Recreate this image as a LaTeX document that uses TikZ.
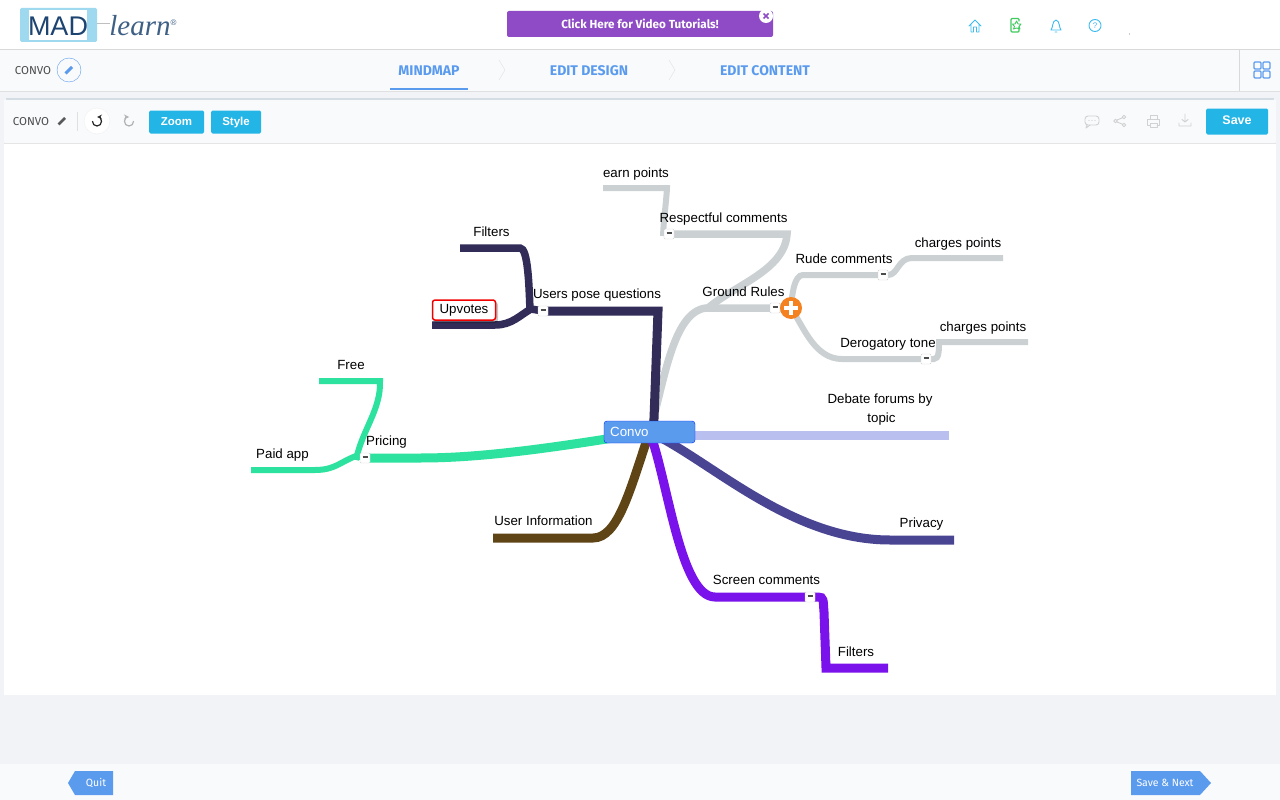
\documentclass[tikz,border=0pt]{standalone}
\usepackage{fontspec}
\usepackage{tikz}
\usetikzlibrary{backgrounds}
\setmainfont{Liberation Sans}
\newfontfamily\uifont{Fira Sans}
\newfontfamily\logofont{Liberation Serif}

\definecolor{pagegray}{HTML}{F1F3F6}
\definecolor{barwhite}{HTML}{F9FAFC}
\definecolor{panelline}{HTML}{D5DDE4}
\definecolor{navblue}{HTML}{5B9BEE}
\definecolor{skybtn}{HTML}{22B5E6}
\definecolor{iconblue}{HTML}{3DBBF0}
\definecolor{icongreen}{HTML}{3CCB5C}
\definecolor{logoblue}{HTML}{1D4470}
\definecolor{logopale}{HTML}{9FD9F0}
\definecolor{videopurple}{HTML}{8E4BC5}
\definecolor{addorange}{HTML}{F58220}
\definecolor{navybranch}{HTML}{312C58}
\definecolor{graybranch}{HTML}{CBD1D3}
\definecolor{greenbranch}{HTML}{2CE29E}
\definecolor{brownbranch}{HTML}{5F4516}
\definecolor{purplebranch}{HTML}{7A12EB}
\definecolor{indigobranch}{HTML}{4A4593}
\definecolor{paleblue}{HTML}{B9C0F0}

\tikzset{
  maplabel/.style={font=\fontsize{13.3}{15}\selectfont, text=black, inner sep=0pt},
  minusbox/.style={draw=black!18, fill=white, rounded corners=1pt, minimum size=10, inner sep=0pt, text=black!70},
  btnbox/.style={fill=skybtn, rounded corners=1.5pt, text=white, inner sep=0pt, text height=8.5pt, text depth=2.5pt,
    font=\bfseries\fontsize{11.5}{13}\selectfont},
  tabtext/.style={text=navblue, inner sep=0pt, font=\uifont\bfseries\fontsize{14}{15}\selectfont},
  smalltext/.style={text=black!70, inner sep=0pt, font=\uifont\fontsize{11.5}{13}\selectfont},
  footlabel/.style={text=white, inner sep=0pt, font=\uifont\fontsize{10.5}{12}\selectfont},
  icon/.style={line width=0.9pt, line cap=round, line join=round},
  thickbranch/.style={line width=9pt},
  midbranch/.style={line width=7.5pt},
  thinbranch/.style={line width=6pt}
}
\newcommand{\minusmark}{\rule[1.5pt]{5pt}{1.8pt}}

\begin{document}
\begin{tikzpicture}[x=1pt, y=-1pt]
  \useasboundingbox (0,0) rectangle (1280,800);

  %% page bands
  \begin{scope}[on background layer]
    \fill[white] (0,0) rectangle (1280,800);
    \fill[pagegray] (0,91) rectangle (1280,764);
    \fill[barwhite] (0,49) rectangle (1280,91);
    \draw[black!15] (0,49.5) -- (1280,49.5);
    \draw[black!12] (0,91) -- (1280,91);
    \draw[black!15] (1239.5,49) -- (1239.5,91);
    \fill[barwhite] (0,764) rectangle (1280,800);
    \fill[barwhite, rounded corners=2pt] (4,99) rectangle (1276,143);
    \draw[line width=2pt, panelline] (6,99) -- (1274,99);
    \fill[white] (4,143) rectangle (1276,695);
    \draw[black!10] (4,143) -- (1276,143);
  \end{scope}

  %% header
  \fill[logopale, rounded corners=1.5pt] (20,8) rectangle (97,42);
  \fill[white] (29,10) rectangle (87,40);
  \draw[black!25, line width=1pt] (97,24) -- (110,24);
  \node[inner sep=0pt, text=logoblue, font=\fontsize{27}{27}\selectfont] (logoMad) at (58,26) {MAD};
  \node[inner sep=0pt, text=logoblue!85!white, font=\logofont\itshape\fontsize{29}{29}\selectfont] (logoLearn) at (140,26) {learn};
  \node[inner sep=0pt, text=logoblue!85!white, font=\fontsize{8}{8}\selectfont] (logoMark) at (173.5,23) {®};

  \node[fill=videopurple, rounded corners=2pt, minimum width=266, minimum height=26, inner sep=0pt,
    text=white, font=\uifont\bfseries\fontsize{11.7}{14}\selectfont] (videoBtn) at (640,24) {Click Here for Video Tutorials!};
  \fill[white] (766,16) circle (7);
  \draw[videopurple, line width=1.6pt] (763.5,13.5) -- (768.5,18.5) (763.5,18.5) -- (768.5,13.5);

  %% top right icons
  \draw[icon, iconblue] (969,26) -- (975,20) -- (981,26) (971,24.5) -- (971,32) -- (973.5,32) -- (973.5,27) -- (976.5,27) -- (976.5,32) -- (979,32) -- (979,24.5);
  \draw[icon, icongreen, line width=1.2pt, rounded corners=1pt] (1019,27) -- (1019,32) -- (1011,32) -- (1011,18.5) -- (1019,18.5) -- (1019,21);
  \draw[icon, icongreen] (1016.5,21) -- (1018,24) -- (1021,24) -- (1019,26.5) -- (1020,29) -- (1016.5,28) -- (1013.5,29) -- (1014.5,26.5) -- (1012.5,24) -- (1015,24) -- cycle;
  \draw[icon, iconblue] (1051,30) .. controls (1053,28) and (1052,21) .. (1056,20) .. controls (1060,21) and (1059,28) .. (1061,30) -- cycle (1055,32) -- (1057,32);
  \draw[icon, iconblue] (1095,25.5) circle (6);
  \node[inner sep=0pt, text=iconblue, font=\fontsize{8}{8}\selectfont] (helpMark) at (1095,25.5) {?};
  \fill[black!20] (1129,33) rectangle (1129.8,35);

  %% tabs
  \node[smalltext] (convoTitle) at (33,70.5) {CONVO};
  \draw[navblue] (69,70) circle (12);
  \draw[navblue, line width=3pt] (65.5,73.5) -- (72,67);
  \node[tabtext] (tabMindmap) at (429,70.5) {MINDMAP};
  \node[tabtext] (tabDesign) at (589,70.5) {EDIT DESIGN};
  \node[tabtext] (tabContent) at (765,70.5) {EDIT CONTENT};
  \draw[navblue, line width=2pt] (390,89) -- (468,89);
  \draw[black!12] (499,60) -- (505,70) -- (499,80);
  \draw[black!12] (669,60) -- (675,70) -- (669,80);
  \foreach \gx/\gy in {1254/62, 1263/62, 1254/71, 1263/71}
    \draw[navblue, line width=1.1pt, rounded corners=1pt] (\gx,\gy) rectangle ++(7,7);

  %% toolbar
  \node[smalltext] (convoBar) at (31,121.5) {CONVO};
  \draw[black!65, line width=2.6pt] (58.5,124.5) -- (65,118);
  \draw[black!12] (77,112) -- (77,131);
  \draw[black!6, fill=white] (97,121) circle (13);
  \draw[icon, black!85, line width=1.2pt, stealth-] (97,117) arc[start angle=-90, end angle=180, radius=4.5];
  \draw[icon, black!30, line width=1.2pt, stealth-] (129,117) arc[start angle=-90, end angle=-360, radius=4.5];
  \node[btnbox, minimum width=55, minimum height=23] (zoomBtn) at (176.5,122) {Zoom};
  \node[btnbox, minimum width=50, minimum height=23] (styleBtn) at (236,122) {Style};
  \node[btnbox, minimum width=62, minimum height=26, font=\bfseries\fontsize{12.5}{14}\selectfont] (saveBtn) at (1237,121.5) {Save};

  %% toolbar icons on the right
  \draw[icon, black!18, rounded corners=3pt] (1085,116) rectangle (1099,125);
  \draw[icon, black!18] (1087,125) -- (1086,128) -- (1090,125);
  \foreach \dx in {1089, 1092, 1095}
    \fill[black!18] (\dx,120.5) circle (0.7);
  \draw[icon, black!18] (1115.5,121) circle (1.8) (1124,117) circle (1.8) (1124,125) circle (1.8) (1117,120) -- (1122.5,117.8) (1117,122) -- (1122.5,124.2);
  \draw[icon, black!18] (1150,119) -- (1150,115) -- (1157,115) -- (1157,119) (1150,125) -- (1147.5,125) -- (1147.5,119) -- (1159.5,119) -- (1159.5,125) -- (1157,125) (1150,123) rectangle (1157,127);
  \draw[icon, black!18] (1185,114) -- (1185,122) (1182,119.5) -- (1185,122) -- (1188,119.5) (1179,123) -- (1179,126) -- (1191,126) -- (1191,123);

  %% footer
  \fill[navblue] (68,783) -- (75,771) -- (113,771) -- (113,795) -- (75,795) -- cycle;
  \node[footlabel] (quitBtn) at (96,783) {Quit};
  \fill[navblue] (1131,771) -- (1200,771) -- (1211,783) -- (1200,795) -- (1131,795) -- cycle;
  \node[footlabel] (nextBtn) at (1165,783) {Save \& Next};

  %% root of the map
  \node[fill=navblue, draw=blue!85!cyan, rounded corners=3pt, minimum width=91, minimum height=22, inner sep=0pt] (convo) at (649.5,432) {};
  \node[inner sep=0pt, anchor=west, text=white, font=\fontsize{13.3}{15}\selectfont] (convoText) at (610,432) {Convo};

  %% fold buttons
  \node[minusbox] (foldUsers) at (543,311) {\minusmark};
  \node[minusbox] (foldRespect) at (669,234) {\minusmark};
  \node[minusbox] (foldGround) at (775,308) {\minusmark};
  \node[minusbox] (foldRude) at (883,275) {\minusmark};
  \node[minusbox] (foldTone) at (926,359) {\minusmark};
  \node[minusbox] (foldPricing) at (365,458) {\minusmark};
  \node[minusbox] (foldScreen) at (810,597) {\minusmark};
  \node[circle, fill=addorange, minimum size=22, inner sep=0pt] (addNode) at (791,308) {};
  \draw[white, line width=3.4pt] (784,308) -- (798,308) (791,301) -- (791,315);

  %% free ends
  \coordinate (startPale) at (680,435);
  \coordinate (endPale) at (949,435);
  \coordinate (endPrivacy) at (954,540);
  \coordinate (endInfo) at (493,538);
  \coordinate (endFilters) at (460,248);
  \coordinate (endUpvotes) at (432,325);
  \coordinate (endEarn) at (603,188);
  \coordinate (endCharge) at (1003,258);
  \coordinate (endChargeB) at (1028,342);
  \coordinate (endFree) at (319,381);
  \coordinate (endPaid) at (251,470);
  \coordinate (endScreen) at (888,668);

  \begin{scope}[on background layer]
    %% gray rules
    \draw[graybranch, midbranch] (convo.center) .. controls (664,385) and (672,312) .. (706,308) -- (foldGround.center) -- (addNode.center);
    \draw[graybranch, midbranch] (708,308) .. controls (735,285) and (785,270) .. (787,234) -- (foldRespect.center);
    \draw[graybranch, thinbranch] (foldRespect.center) ++(-6,2) .. controls (664,215) and (666,205) .. (667,188) -- (endEarn);
    \draw[graybranch, thinbranch] (addNode.center) .. controls (792,295) and (794,275) .. (803,275) -- (foldRude.center) -- (888,275) .. controls (898,275) and (898,258) .. (912,258) -- (endCharge);
    \draw[graybranch, thinbranch] (addNode.center) .. controls (804,328) and (815,359) .. (842,359) -- (foldTone.center) -- (934,359) .. controls (939,359) and (939,350) .. (939,342) -- (endChargeB);

    %% navy questions
    \draw[navybranch, thickbranch] (convo.center) ++(4,0) -- (658,311) -- (foldUsers.center);
    \draw[navybranch, midbranch] (530,310) .. controls (529,285) and (528,248) .. (520,248) -- (endFilters);
    \draw[navybranch, midbranch] (foldUsers.center) -- (531,309) .. controls (520,315) and (512,325) .. (495,325) -- (endUpvotes);

    %% pricing
    \draw[greenbranch, thickbranch] (convo.center) .. controls (530,452) and (470,458) .. (420,458) -- (foldPricing.center);
    \draw[greenbranch, thinbranch] (356,460) .. controls (362,430) and (381,410) .. (380,381) -- (endFree);
    \draw[greenbranch, thinbranch] (foldPricing.center) -- (356,456) .. controls (340,462) and (335,470) .. (315,470) -- (endPaid);

    %% the rest
    \draw[brownbranch, thickbranch] (convo.center) .. controls (630,490) and (618,538) .. (593,538) -- (endInfo);
    \draw[paleblue, thickbranch] (startPale) -- (endPale);
    \draw[indigobranch, thickbranch] (convo.center) .. controls (710,460) and (790,540) .. (890,540) -- (endPrivacy);
    \draw[purplebranch, thickbranch] (convo.center) .. controls (668,480) and (680,597) .. (715,597) -- (foldScreen.center) -- (818,597) .. controls (824,597) and (823,600) .. (824,612) -- (826,668) -- (endScreen);
  \end{scope}

  %% selected node
  \fill[black, opacity=0.22, rounded corners=3pt] (433,302) rectangle (498,323);
  \node[draw=red!95!black, line width=1.5pt, fill=white, rounded corners=2.5pt, minimum width=63, minimum height=20, inner sep=0pt,
    text height=9.5pt, text depth=2.5pt, font=\fontsize{13.3}{15}\selectfont] (upvotes) at (464,310) {Upvotes};

  %% labels
  \node[maplabel] (earn) at (636,174.5) {earn points};
  \node[maplabel] (respect) at (723.5,219) {Respectful comments};
  \node[maplabel] (filtersTop) at (491.5,232) {Filters};
  \node[maplabel] (users) at (597,295.5) {Users pose questions};
  \node[maplabel] (ground) at (743.5,291.5) {Ground Rules};
  \node[maplabel] (rude) at (844,258.5) {Rude comments};
  \node[maplabel] (chargeA) at (958,244.5) {charges points};
  \node[maplabel] (tone) at (888,344.5) {Derogatory tone};
  \node[maplabel] (chargeB) at (983,328.5) {charges points};
  \node[maplabel] (debate) at (880,400.5) {Debate forums by};
  \node[maplabel] (topic) at (881.5,419.5) {topic};
  \node[maplabel] (free) at (351,364.5) {Free};
  \node[maplabel] (pricing) at (386.5,442.5) {Pricing};
  \node[maplabel] (paid) at (282.5,455.5) {Paid app};
  \node[maplabel] (info) at (543.5,520.5) {User Information};
  \node[maplabel] (privacy) at (921.5,524) {Privacy};
  \node[maplabel] (screen) at (766.5,580) {Screen comments};
  \node[maplabel] (filtersLow) at (856,651.5) {Filters};
\end{tikzpicture}
\end{document}
